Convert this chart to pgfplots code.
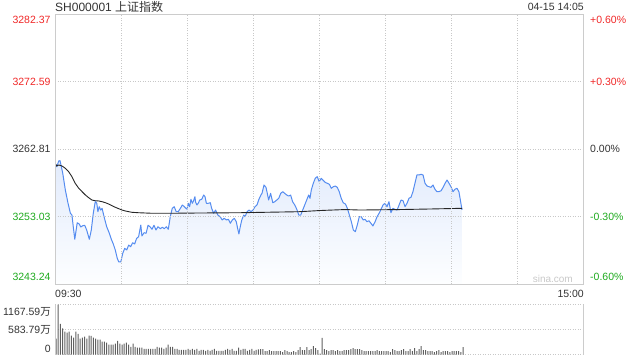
\documentclass[border=0pt]{standalone}
\usepackage{pgfplots}
\pgfplotsset{compat=1.18}
\usepackage{pgfplotstable}
\usepackage{fontspec}
\setmainfont{Liberation Sans}
\newfontfamily\cjk{Noto Sans CJK SC}
\definecolor{upc}{RGB}{240,40,40}
\definecolor{dnc}{RGB}{30,170,30}
\definecolor{txt}{RGB}{51,51,51}
\definecolor{framec}{RGB}{204,204,204}
\definecolor{gridc}{RGB}{200,200,200}
\definecolor{linec}{RGB}{85,140,240}
\definecolor{shtop}{RGB}{226,235,252}
\definecolor{shbot}{RGB}{253,254,255}
\definecolor{volc}{RGB}{96,96,96}
\definecolor{wm}{RGB}{200,200,200}
\newcommand\lab[3]{\raisebox{#1}[\height][\depth]{\textcolor{#2}{#3}}}

\pgfplotstableread{
m p
0.1 3260.63
0.8 3260.24
1.7 3261.07
2.3 3261.11
3.5 3259.33
4.7 3256.86
5.9 3254.98
7.0 3253.49
7.7 3253.24
8.3 3251.54
9.0 3249.72
9.5 3250.82
10.1 3252.12
11.0 3251.94
11.7 3251.50
12.6 3251.69
13.5 3251.75
14.4 3251.07
15.6 3249.72
16.5 3251.07
17.4 3253.49
18.3 3255.17
19.0 3254.94
19.5 3253.72
20.1 3254.44
20.8 3253.96
21.4 3254.21
22.3 3252.99
23.5 3251.54
24.7 3250.59
25.6 3249.72
26.5 3249.04
27.4 3248.17
28.3 3246.96
29.0 3246.43
29.9 3246.43
30.8 3247.69
31.7 3248.41
32.6 3248.17
33.5 3248.89
34.4 3248.64
35.3 3249.22
36.2 3249.04
37.1 3249.86
38.0 3250.09
39.0 3251.79
39.5 3250.20
40.5 3250.68
41.4 3250.59
42.3 3251.75
43.2 3251.54
44.1 3251.17
45.0 3251.75
45.9 3251.07
46.8 3251.54
47.9 3251.26
48.8 3251.46
49.7 3251.26
50.6 3251.54
51.5 3251.17
52.4 3252.99
53.3 3254.21
54.2 3254.44
55.1 3253.72
56.0 3253.72
57.0 3254.21
57.9 3254.69
58.8 3254.44
60.0 3254.07
60.6 3254.94
61.2 3254.44
61.8 3255.52
62.4 3254.94
63.0 3255.31
63.6 3255.89
63.9 3255.12
64.5 3254.69
65.1 3254.94
65.8 3255.41
66.7 3255.52
67.6 3256.14
68.2 3255.89
68.8 3254.94
69.7 3254.94
70.6 3255.02
71.2 3254.21
72.1 3253.49
73.0 3253.96
74.0 3253.24
75.1 3252.99
76.0 3252.52
76.9 3252.76
77.9 3252.52
78.8 3252.62
79.7 3252.04
80.6 3252.52
81.5 3252.76
82.4 3252.27
83.0 3251.31
83.6 3250.49
84.2 3251.54
84.9 3252.52
85.8 3253.24
86.4 3252.99
87.3 3253.72
88.2 3253.96
89.1 3253.72
90.0 3253.96
90.9 3254.44
91.8 3254.69
92.7 3255.52
93.6 3256.14
94.1 3256.38
95.0 3257.59
95.9 3257.25
96.5 3256.38
97.1 3255.41
98.0 3256.38
99.0 3255.02
99.9 3255.17
100.8 3255.41
101.7 3255.66
102.6 3256.38
103.5 3256.62
104.4 3256.38
105.3 3256.14
106.2 3255.99
107.1 3256.14
108.0 3255.17
109.0 3254.69
109.9 3254.07
110.8 3253.24
111.7 3253.24
112.6 3253.96
113.5 3254.69
114.4 3255.41
115.3 3256.14
115.9 3255.66
116.5 3256.86
117.4 3257.83
118.3 3258.56
119.2 3258.80
120.1 3258.07
121.0 3258.56
122.0 3258.24
122.9 3257.95
123.8 3257.83
124.7 3257.69
125.6 3257.11
126.5 3257.34
127.4 3257.44
128.3 3257.25
129.2 3256.62
130.1 3255.66
131.0 3255.02
132.0 3254.83
132.9 3254.21
133.8 3253.24
134.7 3252.27
135.6 3251.07
136.5 3250.82
137.4 3251.79
138.3 3252.99
139.2 3252.99
140.1 3252.52
140.9 3252.62
141.8 3252.27
142.7 3252.41
143.6 3252.04
144.5 3251.65
145.5 3252.27
146.4 3252.99
147.3 3253.49
148.2 3254.07
149.1 3254.69
150.0 3254.94
150.9 3254.44
151.8 3255.17
152.7 3253.57
153.6 3254.21
154.5 3254.07
155.5 3253.96
156.4 3254.69
157.3 3255.41
158.2 3255.31
159.1 3254.44
160.0 3254.94
160.9 3255.66
161.8 3255.81
162.7 3256.62
163.6 3257.83
164.5 3259.04
165.5 3259.04
166.4 3259.14
167.3 3259.04
168.2 3257.83
169.1 3257.44
170.0 3257.34
170.9 3257.25
171.8 3257.59
172.7 3256.97
173.6 3256.62
174.5 3256.62
175.5 3256.76
176.4 3257.25
177.3 3257.83
178.2 3258.31
179.1 3257.83
180.0 3257.34
180.9 3256.62
181.8 3256.97
182.7 3257.11
183.6 3256.62
184.5 3254.94
185.0 3253.99
}\price

\pgfplotstableread{
m p
0.1 3260.73
0.8 3260.34
1.7 3260.49
3.2 3260.34
4.7 3260.01
6.2 3259.52
7.7 3258.79
9.2 3257.83
10.8 3257.11
12.3 3256.62
13.8 3256.14
15.3 3255.75
16.8 3255.41
18.3 3255.31
19.9 3255.27
21.4 3255.17
22.9 3255.02
24.4 3254.83
25.9 3254.59
27.4 3254.36
29.0 3254.15
30.5 3253.96
32.0 3253.82
33.5 3253.72
35.0 3253.63
38.0 3253.57
41.0 3253.53
44.1 3253.49
52.3 3253.49
65.9 3253.53
84.1 3253.57
102.3 3253.67
111.4 3253.72
120.5 3253.89
131.8 3254.03
138.6 3253.96
156.8 3254.03
170.5 3254.11
185.0 3254.21
}\avg

\pgfplotstableread{
m v
0 371
1 1167.59
2 718
3 608
4 537
5 513
6 537
7 442
8 395
9 537
10 481
11 371
12 395
13 418
14 371
15 442
16 434
17 395
18 371
19 347
20 347
21 300
22 300
23 276
24 229
25 229
26 229
27 252
28 316
29 252
30 229
31 252
32 276
33 229
34 181
35 252
36 181
37 158
38 158
39 158
40 134
41 134
42 134
43 134
44 134
45 134
46 181
47 158
48 158
49 134
50 158
51 229
52 181
53 181
54 134
55 134
56 110
57 110
58 110
59 110
60 134
61 110
62 134
63 110
64 134
65 87
66 110
67 110
68 87
69 110
70 87
71 110
72 134
73 87
74 87
75 87
76 87
77 110
78 134
79 110
80 134
81 87
82 87
83 158
84 110
85 134
86 134
87 87
88 110
89 134
90 87
91 110
92 118
93 126
94 126
95 79
96 79
97 103
98 79
99 79
100 79
101 79
102 79
103 55
104 103
105 79
106 55
107 55
108 79
109 55
110 103
111 174
112 103
113 103
114 174
115 103
116 126
117 197
118 150
119 103
120 20
121 387
122 126
123 103
124 79
125 103
126 103
127 79
128 103
129 79
130 79
131 103
132 103
133 103
134 126
135 150
136 126
137 126
138 126
139 103
140 79
141 79
142 79
143 79
144 79
145 79
146 103
147 79
148 79
149 79
150 79
151 79
152 55
153 126
154 103
155 79
156 79
157 103
158 126
159 79
160 79
161 126
162 79
163 150
164 79
165 126
166 197
167 103
168 103
169 79
170 79
171 79
172 55
173 79
174 103
175 55
176 79
177 79
178 79
179 55
180 79
181 79
182 79
183 79
184 55
185 174
}\vol

\begin{document}
\begin{tikzpicture}[x=1bp,y=1bp]
\useasboundingbox (0,0) rectangle (640,360);
\pgfplotsset{
  every axis/.append style={
    tick label style={font=\fontsize{10.5bp}{12bp}\selectfont},
    major tick length=0pt,
  }
}
% main price axis
\begin{axis}[
  at={(55bp,76bp)}, anchor=south west,
  width=528bp, height=270bp, scale only axis,
  xmin=0, xmax=240, ymin=3243.24, ymax=3282.37,
  xtick={30,60,90,120,150,180,210}, xticklabels={},
  ytick={3243.24,3253.03,3262.81,3272.59,3282.37},
  yticklabels={\lab{7bp}{dnc}{3243.24},\lab{0bp}{dnc}{3253.03},\lab{0bp}{txt}{3262.81},\lab{0bp}{upc}{3272.59},\lab{-6bp}{upc}{3282.37}},
  yticklabel style={anchor=east, inner sep=0pt, xshift=-4.3bp},
  xmajorgrids, ymajorgrids,
  major grid style={gridc, line width=0.8bp, dash pattern=on 1bp off 1.5bp},
  axis line style={framec, line width=0.8bp},
  axis on top,
]
\addplot[draw=none, top color=shtop, bottom color=shbot] table {\price} -- (axis cs:185,3243.24) -- (axis cs:0.1,3243.24) -- cycle;
\addplot[linec, line width=1bp, line join=round] table {\price};
\addplot[black!85, line width=0.9bp, line join=round] table {\avg};
\end{axis}
% right percent labels
\begin{axis}[
  at={(55bp,76bp)}, anchor=south west,
  width=528bp, height=270bp, scale only axis,
  xmin=0, xmax=240, ymin=3243.24, ymax=3282.37,
  xtick=\empty,
  ytick={3243.24,3253.03,3262.81,3272.59,3282.37},
  yticklabels={\lab{7bp}{dnc}{-0.60\%},\lab{0bp}{dnc}{-0.30\%},\lab{0bp}{txt}{0.00\%},\lab{0bp}{upc}{+0.30\%},\lab{-6bp}{upc}{+0.60\%}},
  yticklabel pos=right,
  yticklabel style={anchor=west, inner sep=0pt, xshift=7bp},
  axis line style={draw=none},
]
\end{axis}
% volume axis
\begin{axis}[
  at={(55bp,5.5bp)}, anchor=south west,
  width=528bp, height=50bp, scale only axis,
  xmin=0, xmax=240, ymin=0, ymax=1167.59,
  xtick=\empty,
  ytick={0,583.79,1167.59},
  yticklabels={\lab{6bp}{txt}{0},\lab{0bp}{txt}{583.79{\cjk 万}},\lab{-7bp}{txt}{1167.59{\cjk 万}}},
  yticklabel style={anchor=east, inner sep=0pt, xshift=-4bp},
  ymajorgrids,
  major grid style={gridc, line width=0.8bp, dash pattern=on 1bp off 1.5bp},
  axis line style={draw=none},
  clip=false,
]
\addplot[ybar, bar width=1bp, bar shift=1bp, fill=volc, draw=none] table {\vol};
\draw[framec, line width=0.8bp] (rel axis cs:0,0) -- (rel axis cs:0,1);
\draw[framec, line width=0.8bp] (rel axis cs:1,0) -- (rel axis cs:1,1);
\end{axis}
% texts
\node[anchor=west, inner sep=0pt, text=txt, font=\fontsize{12bp}{14bp}\selectfont] at (55,352.7) {SH000001 {\cjk 上证指数}};
\node[anchor=east, inner sep=0pt, text=txt, font=\fontsize{10.5bp}{12bp}\selectfont] at (584,352.7) {04-15 14:05};
\node[anchor=west, inner sep=0pt, text=txt, font=\fontsize{10.5bp}{12bp}\selectfont] at (55,66) {09:30};
\node[anchor=east, inner sep=0pt, text=txt, font=\fontsize{10.5bp}{12bp}\selectfont] at (584,66) {15:00};
\node[anchor=east, inner sep=0pt, text=wm, font=\fontsize{10bp}{12bp}\selectfont] at (573,81) {sina.com};
\end{tikzpicture}
\end{document}
